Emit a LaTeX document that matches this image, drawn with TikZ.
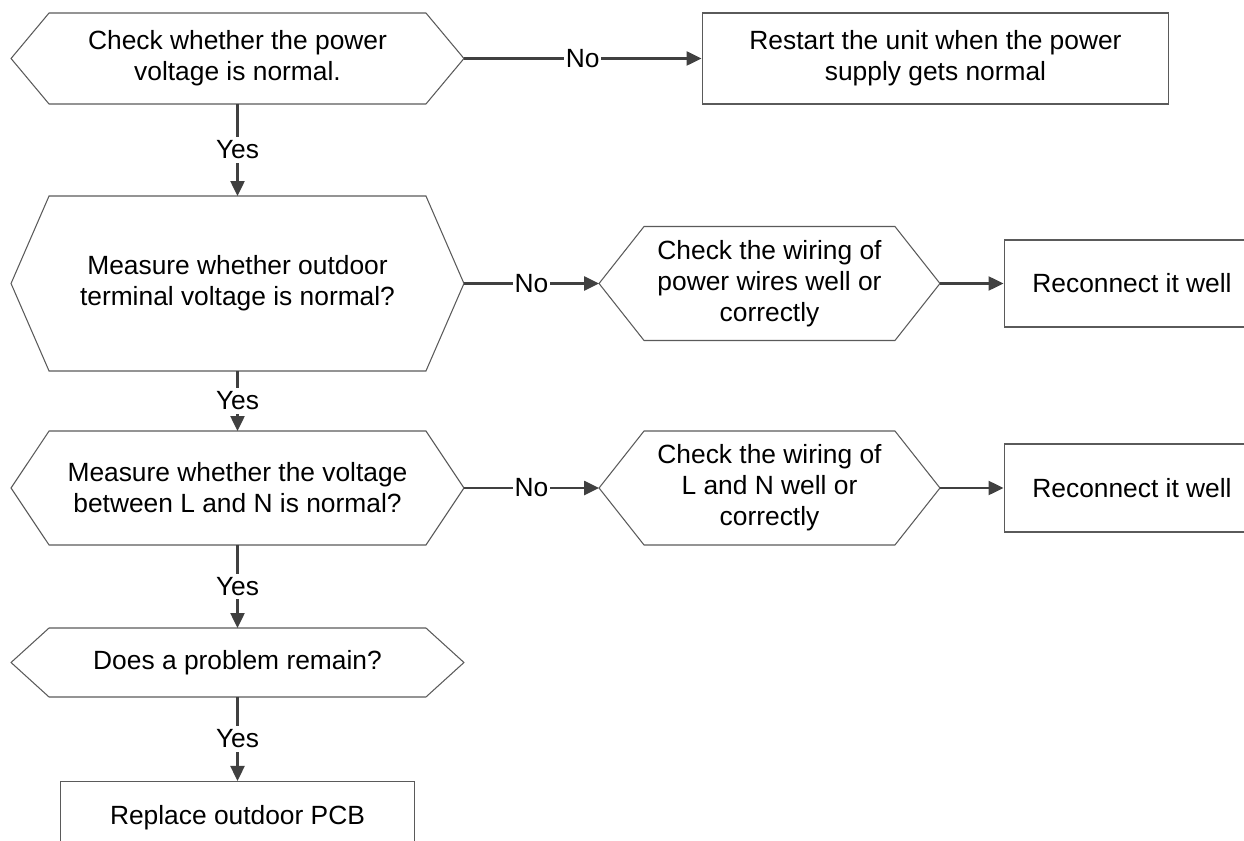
\documentclass[tikz,border=0pt]{standalone}
\usepackage{fontspec}
\setmainfont{Liberation Sans}
\usetikzlibrary{arrows.meta,positioning}
\definecolor{linegray}{HTML}{5A5A5A}
\definecolor{arrowgray}{HTML}{404040}

\begin{document}
\begin{tikzpicture}[x=0.02cm, y=-0.02cm,
  every node/.style={font=\fontsize{15}{17.6}\selectfont, align=center},
  hexnode/.style={inner sep=0pt, outer sep=0pt},
  boxnode/.style={draw=linegray, line width=0.6pt, inner sep=0pt},
  flow/.style={draw=arrowgray, line width=1.4pt, -{Triangle[length=0.3cm,width=0.28cm]}},
  lbl/.style={fill=white, inner xsep=1pt, inner ysep=2pt}]
  \useasboundingbox (0,0) rectangle (1244,841);
  % Main column
  \node[hexnode, minimum width=9.06cm, minimum height=1.82cm] (chk) at (237.5,58.5)
    {Check whether the power\\voltage is normal.};
  \node[hexnode, minimum width=9.06cm, minimum height=3.5cm] (term) at (237.5,283.5)
    {Measure whether outdoor\\terminal voltage is normal?};
  \node[hexnode, minimum width=9.06cm, minimum height=2.28cm] (ln) at (237.5,488)
    {Measure whether the voltage\\between L and N is normal?};
  \node[hexnode, minimum width=9.06cm, minimum height=1.38cm] (rem) at (237.5,662.5)
    {Does a problem remain?};
  \node[boxnode, minimum width=7.1cm, minimum height=1.46cm] (pcb) at (237.5,818)
    {Replace outdoor PCB};
  % Right side
  \node[boxnode, minimum width=9.34cm, minimum height=1.82cm] (rst) at (935.5,58.5)
    {Restart the unit when the power\\supply gets normal};
  \node[hexnode, minimum width=6.82cm, minimum height=2.28cm] (pw) at (769.5,283.5)
    {Check the wiring of\\power wires well or\\correctly};
  \node[boxnode, minimum width=5.12cm, minimum height=1.74cm] (rc1) at (1132,283.5)
    {Reconnect it well};
  \node[hexnode, minimum width=6.82cm, minimum height=2.28cm] (lnw) at (769.5,488)
    {Check the wiring of\\L and N well or\\correctly};
  \node[boxnode, minimum width=5.12cm, minimum height=1.76cm] (rc2) at (1132,488)
    {Reconnect it well};
  % Hexagon outlines
  \foreach \n/\d in {chk/38, term/38, ln/38, rem/38, pw/45, lnw/45}{
    \draw[linegray, line width=0.6pt] (\n.west) -- ([xshift=\d*0.02cm]\n.north west)
      -- ([xshift=-\d*0.02cm]\n.north east) -- (\n.east)
      -- ([xshift=-\d*0.02cm]\n.south east) -- ([xshift=\d*0.02cm]\n.south west) -- cycle;
  }
  % Connectors
  \draw[flow] (chk.south) -- node[lbl]{Yes} (term.north);
  \draw[flow] (term.south) -- node[lbl]{Yes} (ln.north);
  \draw[flow] (ln.south) -- node[lbl]{Yes} (rem.north);
  \draw[flow] (rem.south) -- node[lbl]{Yes} (pcb.north);
  \draw[flow] (chk.east) -- node[lbl]{No} (rst.west);
  \draw[flow] (term.east) -- node[lbl]{No} (pw.west);
  \draw[flow] (ln.east) -- node[lbl]{No} (lnw.west);
  \draw[flow] (pw.east) -- (rc1.west);
  \draw[flow] (lnw.east) -- (rc2.west);
\end{tikzpicture}
\end{document}
